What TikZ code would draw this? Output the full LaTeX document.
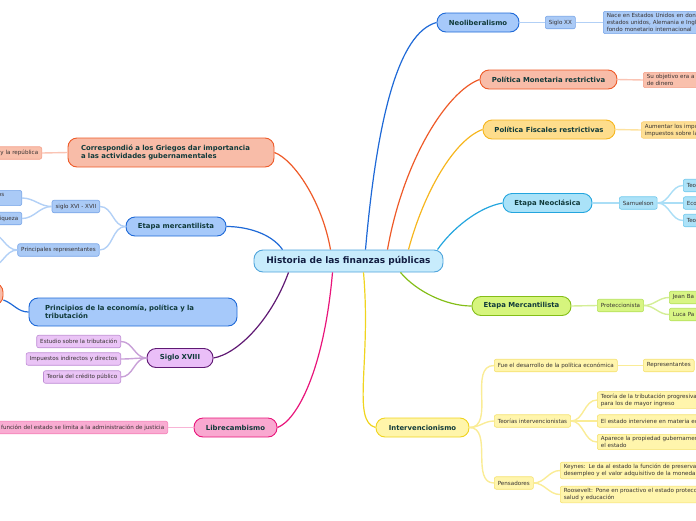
\documentclass[tikz,border=0pt]{standalone}
\usepackage{fontspec}
\setmainfont{DejaVu Sans}
\usepackage{tikz}
\usetikzlibrary{positioning}
\definecolor{hubfill}{RGB}{200,236,252}
\definecolor{hubline}{RGB}{80,165,220}
\definecolor{navy}{RGB}{18,30,66}
\definecolor{darkteal}{RGB}{16,58,58}
\definecolor{leafink}{RGB}{55,50,50}
% colour families: fill, line, leaf fill, leaf line, twig
\definecolor{blueF}{RGB}{166,201,250}
\definecolor{blueD}{RGB}{30,105,215}
\definecolor{blueL}{RGB}{170,202,246}
\definecolor{blueLD}{RGB}{120,165,232}
\definecolor{blueT}{RGB}{178,208,246}
\definecolor{salF}{RGB}{248,188,168}
\definecolor{salD}{RGB}{238,90,40}
\definecolor{salL}{RGB}{249,192,172}
\definecolor{salLD}{RGB}{244,160,138}
\definecolor{salT}{RGB}{250,196,180}
\definecolor{goldF}{RGB}{254,221,140}
\definecolor{goldD}{RGB}{246,182,30}
\definecolor{goldL}{RGB}{254,223,148}
\definecolor{goldLD}{RGB}{250,205,110}
\definecolor{goldT}{RGB}{253,226,160}
\definecolor{cyanF}{RGB}{170,226,248}
\definecolor{cyanD}{RGB}{35,165,222}
\definecolor{cyanL}{RGB}{172,226,248}
\definecolor{cyanLD}{RGB}{110,200,236}
\definecolor{cyanT}{RGB}{170,222,246}
\definecolor{greenF}{RGB}{214,245,125}
\definecolor{greenD}{RGB}{132,190,24}
\definecolor{greenL}{RGB}{216,245,132}
\definecolor{greenLD}{RGB}{180,225,90}
\definecolor{greenT}{RGB}{212,238,150}
\definecolor{yelF}{RGB}{255,245,170}
\definecolor{yelD}{RGB}{240,212,30}
\definecolor{yelL}{RGB}{255,245,172}
\definecolor{yelLD}{RGB}{245,225,110}
\definecolor{yelT}{RGB}{250,236,150}
\definecolor{lilF}{RGB}{234,190,248}
\definecolor{lilD}{RGB}{95,25,115}
\definecolor{lilL}{RGB}{234,196,246}
\definecolor{lilLD}{RGB}{190,140,212}
\definecolor{lilT}{RGB}{200,160,215}
\definecolor{pinkF}{RGB}{249,168,208}
\definecolor{pinkD}{RGB}{232,20,122}
\definecolor{pinkL}{RGB}{249,172,210}
\definecolor{pinkLD}{RGB}{245,130,185}
\definecolor{pinkT}{RGB}{248,180,214}

\begin{document}
\begin{tikzpicture}[x=1pt, y=1pt,
  hub/.style={draw=hubline, fill=hubfill, line width=0.9pt, rounded corners=9pt,
    font=\fontsize{9}{10}\selectfont\bfseries, text=navy, minimum width=189, minimum height=22},
  topic/.style={draw, line width=0.9pt, rounded corners=9pt,
    font=\fontsize{6.9}{8.4}\selectfont\bfseries, text=darkteal, minimum height=19},
  leaf/.style={draw, line width=0.6pt, rounded corners=2pt, align=left,
    font=\fontsize{5.6}{7}\selectfont, text=leafink, minimum height=12.5, inner xsep=3.5, inner ysep=2},
  branch/.style={line width=1.2pt},
  twig/.style={line width=1.4pt}
]
\useasboundingbox (0,0) rectangle (696,-520);
\clip (0,0) rectangle (696,-520);

\node[hub] (hist) at (348.5,-261) {Historia de las finanzas públicas};

% right side
\node[topic, fill=blueF, draw=blueD, minimum width=82] (neolib) at (478,-22.5) {Neoliberalismo};
\node[topic, fill=salF, draw=salD, minimum width=137] (monet) at (548.5,-79.5) {Política Monetaria restrictiva};
\node[topic, fill=goldF, draw=goldD, minimum width=132] (fiscal) at (549,-129.5) {Política Fiscales restrictivas};
\node[topic, fill=cyanF, draw=cyanD, minimum width=89] (neoclas) at (547.5,-203) {Etapa Neoclásica};
\node[topic, fill=greenF, draw=greenD, minimum width=99] (mercR) at (521.5,-306) {Etapa Mercantilista};
\node[topic, fill=yelF, draw=yelD, minimum width=93] (interv) at (422.5,-427.5) {Intervencionismo};

\node[leaf, fill=blueL, draw=blueLD, anchor=west] (sigloXX) at (545,-22.5) {Siglo XX};
\node[leaf, fill=blueL, draw=blueLD, anchor=west, text width=130] (nace) at (603,-22.5)
  {Nace en Estados Unidos en donde\\estados unidos, Alemania e Inglaterra\\fondo monetario internacional};
\node[leaf, fill=salL, draw=salLD, anchor=west, text width=90] (objetivo) at (643,-80) {Su objetivo era a\\de dinero};
\node[leaf, fill=goldL, draw=goldLD, anchor=west, text width=90] (aumentar) at (641,-130) {Aumentar los impuestos\\impuestos sobre la};
\node[leaf, fill=cyanL, draw=cyanLD, anchor=west] (samuel) at (619,-203) {Samuelson};
\node[leaf, fill=cyanL, draw=cyanLD, anchor=west, text width=40] (teoA) at (683,-185.5) {Teo};
\node[leaf, fill=cyanL, draw=cyanLD, anchor=west, text width=40] (eco) at (683,-203) {Eco};
\node[leaf, fill=cyanL, draw=cyanLD, anchor=west, text width=40] (teoB) at (683,-220.5) {Teo};
\node[leaf, fill=greenL, draw=greenLD, anchor=west] (protec) at (597,-305.5) {Proteccionista};
\node[leaf, fill=greenL, draw=greenLD, anchor=west, text width=50] (jean) at (669,-297.5) {Jean Ba};
\node[leaf, fill=greenL, draw=greenLD, anchor=west, text width=50] (luca) at (669,-314.5) {Luca Pa};
\node[leaf, fill=yelL, draw=yelLD, anchor=west] (fue) at (494,-365.5) {Fue el desarrollo de la política económica};
\node[leaf, fill=yelL, draw=yelLD, anchor=west] (repres) at (643,-365.5) {Representantes};
\node[leaf, fill=yelL, draw=yelLD, anchor=west] (teorias) at (494,-421) {Teorías intervencionistas};
\node[leaf, fill=yelL, draw=yelLD, anchor=west, text width=140] (tribut) at (597,-400)
  {Teoría de la tributación progresiva\\para los de mayor ingreso};
\node[leaf, fill=yelL, draw=yelLD, anchor=west, text width=140] (materia) at (597,-421) {El estado interviene en materia económica};
\node[leaf, fill=yelL, draw=yelLD, anchor=west, text width=140] (aparece) at (597,-442)
  {Aparece la propiedad gubernamental\\el estado};
\node[leaf, fill=yelL, draw=yelLD, anchor=west] (pens) at (494,-483) {Pensadores};
\node[leaf, fill=yelL, draw=yelLD, anchor=west, text width=170] (keynes) at (560,-470.5)
  {Keynes: Le da al estado la función de preservar\\desempleo y el valor adquisitivo de la moneda};
\node[leaf, fill=yelL, draw=yelLD, anchor=west, text width=170] (roos) at (560,-494.5)
  {Roosevelt: Pone en proactivo el estado protección\\salud y educación};

% left side
\node[topic, fill=pinkF, draw=pinkD, minimum width=83] (librec) at (235.5,-427.5) {Librecambismo};
\node[topic, fill=lilF, draw=lilD, minimum width=66] (siglo18) at (180,-358) {Siglo XVIII};
\node[topic, fill=blueF, draw=blueD, minimum width=100] (mercL) at (176,-226.5) {Etapa mercantilista};
\node[topic, fill=salF, draw=salD, text width=180, inner xsep=13, align=left, minimum height=29] (griegos) at (171,-152.5)
  {Correspondió a los Griegos dar importancia\\a las actividades gubernamentales};
\node[topic, fill=blueF, draw=blueD, text width=176, inner xsep=16, align=left, minimum height=28] (princ) at (133,-312)
  {Principios de la economía, política y la\\tributación};
\node[topic, fill=salF, draw=salD, minimum width=66, minimum height=22] (origen) at (-30,-294) {};

\node[leaf, fill=salL, draw=salLD, anchor=east] (repub) at (42,-153) {y la república};
\node[leaf, fill=blueL, draw=blueLD, anchor=east] (siglo1617) at (100,-206.5) {siglo XVI - XVII};
\node[leaf, fill=blueL, draw=blueLD, anchor=east, align=right] (los) at (22,-198) {los\rule{14pt}{0pt}\\\mbox{}};
\node[leaf, fill=blueL, draw=blueLD, anchor=east] (iqueza) at (22,-218.5) {iqueza};
\node[leaf, fill=blueL, draw=blueLD, anchor=east] (princrep) at (99.5,-250) {Principales representantes};
\coordinate (repA) at (-10,-233);
\coordinate (repB) at (-10,-267);
\node[leaf, fill=lilL, draw=lilLD, anchor=east] (estudio) at (121,-341.5) {Estudio sobre la tributación};
\node[leaf, fill=lilL, draw=lilLD, anchor=east] (impuestos) at (121,-359) {Impuestos indirectos y directos};
\node[leaf, fill=lilL, draw=lilLD, anchor=east] (credito) at (121,-377) {Teoría del crédito público};
\node[leaf, fill=pinkL, draw=pinkLD, anchor=east] (funcion) at (168,-427.5) {a función del estado se limita a la administración de justicia};

% main branches
\draw[branch, blueD] ([xshift=17]hist.north) to[out=85, in=195, out distance=130, in distance=40] (neolib.west);
\draw[branch, salD] ([xshift=39]hist.north) to[out=80, in=200, out distance=90, in distance=35] (monet.west);
\draw[branch, goldD] ([xshift=60]hist.north) to[out=75, in=200, out distance=60, in distance=30] (fiscal.west);
\draw[branch, cyanD] ([xshift=89]hist.north) to[out=55, in=190, out distance=25, in distance=25] (neoclas.west);
\draw[branch, greenD] ([xshift=52]hist.south) to[out=-50, in=180, out distance=25, in distance=25] (mercR.west);
\draw[branch, yelD] ([xshift=15]hist.south) to[out=-85, in=165, out distance=90, in distance=25] (interv.west);
\draw[branch, pinkD] ([xshift=-16]hist.south) to[out=-95, in=20, out distance=100, in distance=20] (librec.east);
\draw[branch, lilD] ([xshift=-60]hist.south) to[out=-110, in=10, out distance=50, in distance=25] (siglo18.east);
\draw[branch, salD] ([xshift=-18]hist.north) to[out=100, in=-20, out distance=50, in distance=20] (griegos.east);
\draw[branch, blueD] ([xshift=-66]hist.north) to[out=125, in=0, out distance=20, in distance=20] (mercL.east);
\draw[branch, blueD] ([yshift=-6]origen.east) to[out=-20, in=180] (princ.west);

% twigs, right side
\draw[twig, blueT] (neolib.east) -- (sigloXX.west);
\draw[twig, blueT] (sigloXX.east) -- (nace.west);
\draw[twig, salT] (monet.east) -- (objetivo.west);
\draw[twig, goldT] (fiscal.east) -- (aumentar.west);
\draw[twig, cyanT] (neoclas.east) -- (samuel.west);
\foreach \kid in {teoA, eco, teoB}
  \draw[twig, cyanT] (samuel.east) to[out=0, in=180] (\kid.west);
\draw[twig, greenT] (mercR.east) -- (protec.west);
\foreach \kid in {jean, luca}
  \draw[twig, greenT] (protec.east) to[out=0, in=180] (\kid.west);
\foreach \kid in {fue, teorias, pens}
  \draw[twig, yelT] (interv.east) to[out=0, in=180] (\kid.west);
\draw[twig, yelT] (fue.east) -- (repres.west);
\foreach \kid in {tribut, materia, aparece}
  \draw[twig, yelT] (teorias.east) to[out=0, in=180] (\kid.west);
\foreach \kid in {keynes, roos}
  \draw[twig, yelT] (pens.east) to[out=0, in=180] (\kid.west);

% twigs, left side
\draw[twig, salT] (griegos.west) -- (repub.east);
\foreach \kid in {siglo1617, princrep}
  \draw[twig, blueT] (mercL.west) to[out=180, in=0] (\kid.east);
\foreach \kid in {los, iqueza}
  \draw[twig, blueT] (siglo1617.west) to[out=180, in=0] (\kid.east);
\foreach \kid in {repA, repB}
  \draw[twig, blueT] (princrep.west) to[out=180, in=0] (\kid);
\foreach \kid in {estudio, impuestos, credito}
  \draw[twig, lilT] (siglo18.west) to[out=180, in=0] (\kid.east);
\draw[twig, pinkT] (librec.west) -- (funcion.east);

\end{tikzpicture}
\end{document}
